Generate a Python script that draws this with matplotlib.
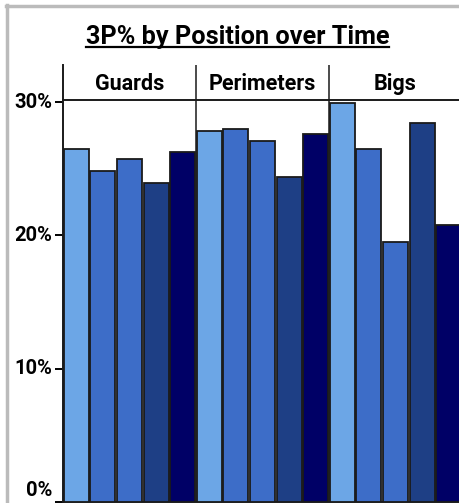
import matplotlib
matplotlib.use("Agg")
import matplotlib.pyplot as plt
from matplotlib.lines import Line2D
import matplotlib.transforms as mtransforms
import numpy as np

plt.rcParams['font.family'] = ['Roboto', 'DejaVu Sans']

groups = ["Guards", "Perimeters", "Bigs"]
periods = ["P1", "P2", "P3", "P4", "P5"]
colors = ["#6CA6E6", "#3D6DC8", "#3D6DC8", "#1E3F85", "#000066"]
values = {
    "Guards":     [26.5, 24.85, 25.7, 23.95, 26.25],
    "Perimeters": [27.8, 27.95, 27.05, 24.35, 27.6],
    "Bigs":       [29.9, 26.5, 19.5, 28.45, 20.8],
}
yticks = [0, 10, 20, 30]
ytick_labels = ["0%", "10%", "20%", "30%"]
title = "3P% by Position over Time"

W, H = 460, 503
fig = plt.figure(figsize=(W / 100, H / 100), dpi=100)

def fx(px):
    return px / W

def fy(py):
    return 1 - py / H

ax_left, ax_right = 63, 462
ax_top, ax_bot = 100, 502
ax = fig.add_axes([fx(ax_left), fy(ax_bot), fx(ax_right - ax_left), fy(ax_top) - fy(ax_bot)])
hax = fig.add_axes([fx(ax_left), fy(ax_top), fx(ax_right - ax_left), fy(65) - fy(ax_top)], sharex=ax)

n = len(periods)
for g, grp in enumerate(groups):
    xs = np.arange(n) + g * n
    ax.bar(xs, values[grp], width=0.94, color=colors, edgecolor="#1a1a1a",
           linewidth=1.3, zorder=3)
    if g > 0:
        ax.axvline(g * n - 0.5, color="#1a1a1a", lw=1.1, zorder=1)
        hax.axvline(g * n - 0.5, color="#1a1a1a", lw=1.1)
    hax.text(g * n + (n - 1) / 2, 0.47, grp, ha="center", va="center",
             fontsize=15.5, fontweight="bold")

ax.set_xlim(-0.5, len(groups) * n - 0.5)
ax.set_ylim(0, 30.15)
ax.set_xticks([])
ax.set_yticks(yticks)
ax.set_yticklabels([])
ax.tick_params(axis="y", length=5.8, width=1.4, color="black")
for s in ["left", "top", "bottom"]:
    ax.spines[s].set_linewidth(1.4)
    ax.spines[s].set_color("#1a1a1a")
ax.spines["right"].set_visible(False)

hax.set_ylim(0, 1)
hax.set_yticks([])
hax.tick_params(axis="x", bottom=False, labelbottom=False)
for s in ["top", "right", "bottom"]:
    hax.spines[s].set_visible(False)
hax.spines["left"].set_linewidth(1.4)
hax.spines["left"].set_color("#1a1a1a")
hax.patch.set_alpha(0)

trans = mtransforms.blended_transform_factory(ax.transAxes, ax.transData)
for v, lab in zip(yticks, ytick_labels):
    dy = 8 if v == 0 else 0
    ax.annotate(lab, xy=(0, v), xycoords=trans, xytext=(-8, dy),
                textcoords="offset points", ha="right", va="center",
                fontsize=14.5, fontweight="bold", annotation_clip=False)

fig.add_artist(Line2D([fx(7.5), fx(7.5)], [fy(5), 0], transform=fig.transFigure,
                      color="#BBBBBB", lw=2.5))
fig.add_artist(Line2D([fx(6.5), 1], [fy(6), fy(6)], transform=fig.transFigure,
                      color="#BBBBBB", lw=2.5))

t = fig.text(fx(237.5), fy(37), title, ha="center", va="center",
             fontsize=18.2, fontweight="bold")
fig.canvas.draw()
bb = t.get_window_extent()
fig.add_artist(Line2D([bb.x0 / W, bb.x1 / W], [fy(46.5), fy(46.5)],
                      transform=fig.transFigure, color="black", lw=1.6))

fig.savefig("out.png", dpi=100)
